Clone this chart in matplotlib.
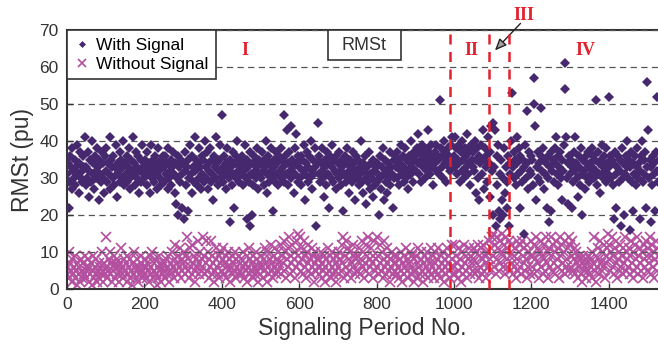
import numpy as np
import matplotlib
matplotlib.use('Agg')
import matplotlib.pyplot as plt
from matplotlib.patches import Rectangle

# RMSt per signaling period (one value every 2nd period)
period_step = 2

with_signal = [
    31, 34, 22, 29, 36, 33, 27, 38, 32, 30, 35, 28, 33, 39, 31, 26, 34, 37, 30, 32, 29, 36, 33, 41, 28,  # 0
    33, 30, 37, 25, 32, 35, 29, 40, 31, 34, 27, 36, 32, 30, 38, 33, 24, 35, 31, 29, 37, 34, 30, 26, 36,
    32, 38, 29, 34, 31, 41, 27, 35, 33, 30, 36, 28, 33, 39, 31, 25, 34, 32, 37, 29, 35, 30, 40, 33, 28,
    34, 31, 36, 29, 33, 38, 30, 27, 35, 32, 41, 31, 34, 28, 37, 33, 30, 36, 26, 32, 35, 29, 39, 33, 31,
    30, 35, 33, 28, 37, 31, 34, 26, 32, 39, 30, 35, 29, 33, 36, 31, 27, 34, 38, 32, 30, 35, 28, 33, 36,  # 200
    33, 29, 36, 31, 34, 27, 38, 30, 32, 35, 28, 33, 37, 31, 26, 34, 23, 30, 36, 20, 33, 29, 35, 22, 31,
    34, 19, 32, 37, 28, 33, 21, 35, 30, 39, 31, 26, 36, 33, 29, 41, 32, 35, 28, 34, 38, 30, 33, 27, 36,
    31, 35, 29, 40, 33, 30, 37, 27, 34, 32, 38, 29, 35, 31, 24, 36, 33, 30, 41, 34, 28, 35, 32, 39, 30,
    47, 33, 29, 36, 31, 34, 27, 38, 32, 30, 18, 35, 33, 28, 37, 31, 22, 34, 36, 30, 40, 32, 29, 35, 33,  # 400
    31, 36, 28, 34, 32, 39, 30, 35, 19, 33, 29, 17, 37, 31, 20, 34, 28, 36, 32, 30, 38, 33, 27, 35, 31,
    34, 30, 37, 32, 28, 35, 33, 40, 31, 26, 36, 29, 34, 32, 38, 30, 21, 35, 33, 29, 37, 31, 34, 28, 36,
    32, 38, 30, 35, 33, 47, 29, 36, 31, 43, 34, 28, 37, 32, 44, 30, 35, 33, 26, 38, 31, 42, 34, 29, 36,
    33, 30, 36, 28, 35, 32, 39, 31, 24, 34, 37, 29, 33, 36, 30, 40, 32, 27, 35, 31, 38, 33, 17, 34, 45,  # 600
    31, 36, 29, 34, 32, 38, 30, 25, 35, 33, 28, 37, 31, 34, 22, 36, 30, 33, 39, 29, 35, 32, 27, 36, 31,
    34, 30, 37, 32, 28, 35, 33, 21, 31, 36, 29, 34, 38, 30, 32, 26, 35, 33, 29, 37, 31, 34, 24, 36, 32,
    30, 35, 28, 33, 31, 40, 29, 34, 26, 32, 36, 30, 23, 33, 29, 37, 31, 27, 34, 30, 25, 35, 32, 28, 33,
    29, 34, 31, 20, 36, 30, 27, 33, 38, 31, 24, 35, 29, 32, 26, 34, 30, 37, 28, 33, 31, 22, 35, 30, 36,  # 800
    33, 37, 30, 35, 28, 34, 32, 39, 31, 36, 29, 33, 38, 30, 35, 32, 27, 36, 34, 31, 40, 33, 29, 37, 35,
    36, 32, 38, 34, 42, 31, 37, 35, 29, 39, 33, 36, 30, 38, 35, 32, 43, 34, 37, 31, 36, 39, 33, 28, 35,
    37, 34, 39, 32, 36, 35, 31, 51, 38, 33, 36, 30, 40, 34, 37, 29, 35, 38, 33, 36, 32, 39, 35, 41, 34,
    36, 41, 33, 38, 31, 35, 39, 34, 29, 37, 32, 40, 35, 30, 38, 33, 36, 42, 31, 34, 37, 28, 39, 35, 33,  # 1000
    37, 32, 40, 26, 35, 38, 30, 36, 24, 34, 39, 31, 43, 35, 27, 38, 33, 36, 29, 41, 34, 25, 37, 44, 32,
    45, 20, 33, 43, 17, 36, 28, 39, 21, 31, 19, 35, 24, 30, 20, 38, 26, 33, 29, 22, 36, 17, 31, 34, 40,
    53, 33, 37, 30, 35, 28, 41, 34, 31, 38, 22, 36, 32, 29, 35, 15, 33, 39, 30, 48, 34, 27, 37, 32, 36,
    31, 35, 28, 50, 57, 44, 24, 33, 37, 30, 34, 29, 36, 49, 32, 38, 27, 35, 31, 34, 22, 36, 30, 18, 33,  # 1200
    37, 21, 32, 35, 29, 34, 38, 41, 31, 36, 28, 33, 37, 30, 35, 24, 32, 39, 61, 54, 41, 30, 23, 34, 36,
    31, 35, 22, 33, 29, 37, 32, 41, 34, 30, 25, 36, 33, 28, 38, 31, 20, 35, 32, 27, 36, 34, 30, 37, 33,
    29, 34, 31, 38, 33, 36, 30, 35, 32, 51, 28, 37, 34, 31, 26, 35, 39, 33, 30, 36, 32, 29, 38, 34, 31,
    52, 33, 36, 30, 35, 28, 34, 19, 37, 31, 22, 33, 36, 29, 35, 32, 17, 38, 30, 34, 20, 31, 36, 33, 40,  # 1400
    30, 35, 16, 33, 37, 29, 34, 21, 31, 36, 28, 33, 38, 30, 34, 19, 32, 36, 40, 29, 35, 31, 37, 22, 33,
    56, 43, 30, 35, 18, 33, 28, 36, 31, 34, 21, 37, 52, 32, 29, 35,
]

without_signal = [
    4, 6, 10, 3, 7, 5, 2, 8, 4, 6, 3, 9, 5, 1, 7, 4, 6, 2, 8, 5, 3, 7, 4, 9, 6,  # 0
    3, 5, 8, 2, 6, 4, 7, 1, 5, 9, 3, 6, 4, 8, 2, 5, 7, 3, 6, 4, 10, 5, 2, 7, 4,
    6, 14, 3, 5, 8, 10, 4, 7, 2, 6, 5, 9, 3, 7, 4, 8, 6, 2, 5, 7, 11, 4, 6, 3, 8,
    5, 7, 2, 9, 4, 6, 3, 8, 5, 1, 7, 4, 10, 6, 3, 5, 8, 2, 6, 4, 7, 9, 3, 5, 6,
    4, 8, 6, 3, 7, 5, 2, 9, 4, 6, 10, 3, 7, 5, 8, 4, 1, 6, 3, 9, 5, 7, 2, 6, 4,  # 200
    5, 7, 3, 8, 4, 6, 9, 2, 5, 7, 4, 10, 6, 3, 8, 12, 5, 7, 4, 9, 6, 11, 3, 8, 5,
    7, 10, 4, 6, 9, 14, 5, 8, 3, 11, 6, 12, 4, 7, 9, 5, 2, 8, 6, 13, 4, 7, 10, 5, 8,
    6, 14, 9, 4, 13, 7, 5, 10, 3, 8, 6, 13, 4, 9, 7, 2, 5, 11, 8, 6, 4, 9, 3, 7, 10,
    5, 8, 11, 4, 7, 9, 3, 6, 10, 5, 8, 2, 6, 9, 4, 7, 5, 10, 3, 8, 6, 4, 9, 7, 5,  # 400
    8, 4, 6, 10, 3, 7, 5, 9, 2, 6, 11, 4, 8, 5, 7, 3, 9, 6, 4, 10, 5, 8, 2, 6, 7,
    4, 9, 6, 3, 8, 5, 11, 7, 2, 10, 6, 4, 8, 5, 12, 7, 3, 9, 6, 11, 4, 8, 5, 10, 7,
    6, 12, 4, 9, 7, 13, 5, 10, 3, 8, 11, 6, 14, 4, 9, 7, 12, 5, 8, 3, 10, 6, 13, 9, 15,
    7, 14, 5, 11, 8, 4, 13, 6, 9, 3, 10, 7, 12, 5, 8, 4, 11, 6, 9, 2, 7, 10, 5, 8, 6,  # 600
    4, 8, 6, 10, 3, 7, 5, 9, 2, 6, 8, 4, 11, 7, 5, 9, 3, 6, 10, 4, 8, 5, 7, 2, 9,
    6, 10, 4, 8, 5, 12, 7, 14, 3, 9, 13, 6, 4, 11, 8, 5, 10, 3, 7, 12, 6, 9, 4, 8, 5,
    9, 5, 11, 7, 4, 8, 13, 6, 10, 3, 7, 12, 5, 9, 14, 4, 8, 6, 11, 7, 3, 9, 13, 5, 8,
    14, 6, 9, 4, 12, 7, 5, 10, 3, 13, 8, 6, 4, 11, 7, 9, 5, 2, 8, 6, 10, 4, 7, 9, 5,  # 800
    7, 4, 9, 6, 3, 8, 5, 10, 2, 7, 4, 9, 6, 11, 5, 8, 3, 7, 10, 4, 6, 9, 5, 2, 8,
    5, 9, 3, 7, 11, 6, 4, 8, 10, 5, 2, 7, 9, 4, 6, 10, 3, 8, 5, 7, 11, 4, 6, 9, 3,
    7, 10, 5, 8, 4, 11, 6, 3, 9, 7, 5, 10, 2, 6, 8, 4, 11, 7, 5, 9, 3, 6, 12, 8, 4,
    6, 12, 4, 9, 7, 3, 11, 5, 8, 2, 10, 6, 4, 12, 7, 9, 5, 3, 8, 11, 6, 4, 9, 7, 5,  # 1000
    8, 11, 4, 7, 10, 5, 12, 3, 9, 6, 11, 4, 8, 12, 5, 9, 7, 3, 10, 6, 13, 8, 5, 11, 14,
    9, 15, 6, 12, 4, 14, 8, 11, 5, 13, 7, 10, 15, 6, 9, 12, 4, 14, 8, 11, 6, 13, 9, 5, 12,
    7, 4, 9, 6, 11, 3, 8, 13, 5, 10, 12, 6, 4, 13, 9, 7, 11, 5, 8, 3, 12, 6, 10, 4, 9,
    13, 6, 9, 12, 4, 8, 14, 5, 11, 7, 3, 10, 13, 6, 9, 4, 12, 8, 5, 14, 7, 10, 3, 11, 6,  # 1200
    9, 14, 5, 12, 7, 10, 4, 13, 8, 6, 11, 3, 14, 9, 5, 12, 7, 10, 4, 13, 6, 8, 11, 5, 14,
    12, 6, 9, 13, 5, 8, 11, 4, 10, 7, 3, 9, 6, 8, 4, 7, 2, 9, 5, 6, 8, 3, 7, 5, 9,
    4, 8, 6, 10, 3, 7, 14, 5, 9, 2, 6, 11, 8, 4, 13, 7, 5, 10, 6, 12, 3, 9, 7, 11, 15,
    8, 12, 5, 10, 14, 6, 9, 4, 11, 7, 13, 3, 8, 10, 5, 12, 6, 9, 4, 11, 7, 14, 5, 8, 10,  # 1400
    6, 11, 4, 9, 13, 7, 3, 10, 5, 12, 8, 6, 14, 4, 9, 11, 7, 5, 10, 3, 12, 8, 6, 13, 9,
    5, 11, 7, 14, 4, 9, 12, 6, 10, 3, 8, 13, 5, 11, 7, 9,
]

# region boundaries (red dashed) and region labels
boundaries = [990, 1090, 1143]
region_labels = ['I', 'II', 'IV']
region_label_x = [460, 1045, 1340]

purple = '#46286f'
pink = '#b44f9f'
red = '#e3202c'
dark = '#333333'

plt.rcParams['font.family'] = ['Liberation Sans', 'DejaVu Sans']

fig = plt.figure(figsize=(6.58, 3.49), dpi=100)
ax = fig.add_axes([0.1018, 0.1719, 0.898, 0.742])

x_with = np.arange(len(with_signal)) * period_step
x_without = np.arange(len(without_signal)) * period_step

h_without, = ax.plot(x_without, without_signal, 'x', color=pink, ms=7, mew=1.2,
                     label='Without Signal', zorder=2)
h_with, = ax.plot(x_with, with_signal, 'D', color=purple, ms=4.7, mew=0,
                  label='With Signal', zorder=3)

ax.set_xlim(0, 1527)
ax.set_ylim(0, 70)
ax.set_xticks(np.arange(0, 1401, 200))
ax.set_yticks(np.arange(0, 71, 10))
ax.yaxis.grid(True, linestyle=(0, (5, 3.5)), color='#555555', lw=0.9)
ax.set_axisbelow(False)

for b in boundaries:
    ax.plot([b, b], [0, 69], linestyle=(0, (4, 3)), color=red, lw=1.8, zorder=4)

for lab, lx in zip(region_labels, region_label_x):
    ax.text(lx, 64.5, lab, color=red, fontsize=13, fontweight='bold',
            family='Liberation Serif', ha='center', va='center', zorder=5)
ax.text(1181, 74, 'III', color=red, fontsize=13, fontweight='bold',
        family='Liberation Serif', ha='center', va='center', clip_on=False)
ax.annotate('', xy=(1106, 64.5), xytext=(1172, 71.8), annotation_clip=False,
            arrowprops=dict(arrowstyle='-|>,head_length=0.7,head_width=0.3',
                            fc='#a0a0a0', ec='#222222', lw=1.0, shrinkA=0, shrinkB=0))

# RMSt title box at the top
ax.add_patch(Rectangle((0.4416, 0.884), 0.1235, 0.116, transform=ax.transAxes,
                       fc='white', ec=dark, lw=1.2, zorder=6, clip_on=False))
ax.text(0.4416 + 0.1235 / 2, 0.942, 'RMSt', transform=ax.transAxes, fontsize=13,
        ha='center', va='center', color=dark, zorder=7)

leg = ax.legend(handles=[h_with, h_without], loc='upper left', bbox_to_anchor=(0, 1),
                borderaxespad=0, fancybox=False, edgecolor=dark, framealpha=1,
                fontsize=12.5, handlelength=0.8, handletextpad=0.4, borderpad=0.45,
                labelspacing=0.2, markerscale=0.75)
leg.get_frame().set_linewidth(1.2)
leg.set_zorder(8)

for side in ['left', 'bottom', 'top']:
    ax.spines[side].set_color(dark)
    ax.spines[side].set_linewidth(1.5)
ax.spines['right'].set_visible(False)
ax.tick_params(direction='in', length=4, width=1, color=dark, labelsize=12.5,
               labelcolor=dark, pad=6)

ax.set_xlabel('Signaling Period No.', fontsize=16.5, color=dark, labelpad=3)
ax.set_ylabel('RMSt (pu)', fontsize=16.5, color=dark, labelpad=4)

fig.savefig('out.png', dpi=100)
